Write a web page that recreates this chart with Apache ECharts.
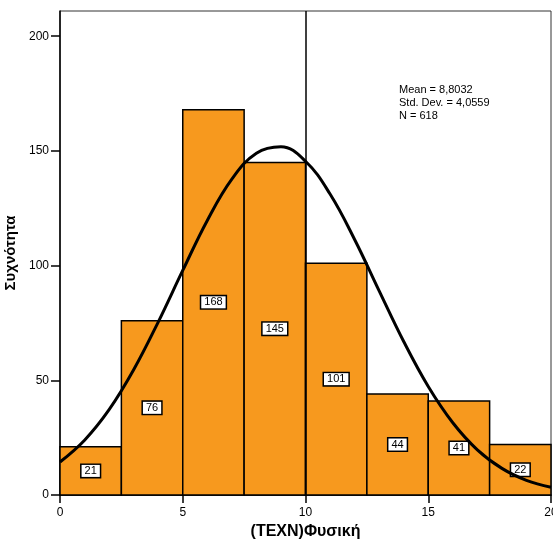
<!DOCTYPE html>
<html>
<head>
<meta charset="utf-8">
<script src="https://cdn.jsdelivr.net/npm/echarts@6/dist/echarts.min.js"></script>
<style>html,body{margin:0;padding:0;background:#fff}#c{width:553px;height:542px}</style>
</head>
<body>
<div id="c"></div>
<script>
var binStart = [0, 2.5, 5, 7.5, 10, 12.5, 15, 17.5];
var binEnd   = [2.5, 5, 7.5, 10, 12.5, 15, 17.5, 20];
var counts   = [21, 76, 168, 145, 101, 44, 41, 22];
var curveX = [0,1,2,3,4,5,6,7,8,9,10,11,12,13,14,15,16,17,18,19,20];
var curveY = [14.4,23.9,37.2,54.6,75.4,97.9,119.7,137.7,149.0,151.8,145.5,131.2,111.4,89.0,66.9,47.3,31.5,19.7,11.6,6.4,3.4];
var xTicks = [0, 5, 10, 15, 20];
var yTicks = [0, 50, 100, 150, 200];
var refLineX = 10;
var statsLines = ['Mean = 8,8032', 'Std. Dev. = 4,0559', 'N = 618'];
var xTitle = '(TEXN)Φυσική';
var yTitle = 'Συχνότητα';

var FONT = 'Liberation Sans, Arial, sans-serif';
var chart = echarts.init(document.getElementById('c'));
var barData = binStart.map(function (s, i) { return [s, binEnd[i], counts[i]]; });

chart.setOption({
  animation: false,
  grid: { left: 60, right: 2, top: 11, bottom: 47, show: true, borderColor: '#333', borderWidth: 1,
          backgroundColor: 'transparent', outerBoundsMode: 'none', containLabel: false },
  xAxis: {
    type: 'value', min: 0, max: 20, interval: 5,
    name: xTitle, nameLocation: 'middle', nameGap: 29,
    nameTextStyle: { fontFamily: FONT, fontWeight: 'bold', fontSize: 16, color: '#000', verticalAlign: 'top' },
    axisLine: { show: true, lineStyle: { color: '#000', width: 1.5 } },
    axisTick: { show: true, length: 8, lineStyle: { color: '#000', width: 1.5 }, customValues: xTicks },
    axisLabel: { fontFamily: FONT, fontSize: 12, color: '#000', margin: 12, customValues: xTicks },
    splitLine: { show: false }
  },
  yAxis: {
    type: 'value', min: 0, max: 211,
    name: yTitle, nameLocation: 'middle', nameGap: 36, nameRotate: 90,
    nameTextStyle: { fontFamily: FONT, fontWeight: 'bold', fontSize: 15, color: '#000' },
    axisLine: { show: true, lineStyle: { color: '#000', width: 1.5 } },
    axisTick: { show: true, length: 9, lineStyle: { color: '#000', width: 1.5 }, customValues: yTicks },
    axisLabel: { fontFamily: FONT, fontSize: 12, color: '#000', margin: 11, customValues: yTicks },
    splitLine: { show: false }
  },
  series: [
    {
      type: 'custom',
      data: barData,
      encode: { x: [0, 1], y: 2 },
      renderItem: function (params, api) {
        var p0 = api.coord([api.value(0), api.value(2)]);
        var p1 = api.coord([api.value(1), 0]);
        var cx = (p0[0] + p1[0]) / 2, cy = (p0[1] + p1[1]) / 2;
        return {
          type: 'group',
          children: [
            { type: 'rect', shape: { x: p0[0], y: p0[1], width: p1[0] - p0[0], height: p1[1] - p0[1] },
              style: { fill: '#F7991E', stroke: '#000', lineWidth: 1.5 } },
            { type: 'text', x: cx, y: cy, z2: 10,
              style: { text: String(api.value(2)), fill: '#000', font: '11px ' + FONT,
                align: 'center', verticalAlign: 'middle', backgroundColor: '#fff',
                borderColor: '#000', borderWidth: 1.5, padding: [1, 3, 0, 3] } }
          ]
        };
      },
      z: 2
    },
    {
      type: 'line',
      data: curveX.map(function (x, i) { return [x, curveY[i]]; }),
      smooth: 0.4, showSymbol: false, symbol: 'none',
      lineStyle: { color: '#000', width: 3 },
      z: 5,
      markLine: {
        silent: true, symbol: 'none', label: { show: false },
        lineStyle: { color: '#000', width: 1.5, type: 'solid' },
        data: [{ xAxis: refLineX }]
      }
    }
  ],
  graphic: statsLines.map(function (t, i) {
    return { type: 'text', left: 399, top: 84 + i * 13, style: { text: t, font: '11px ' + FONT, fill: '#000' } };
  })
});
</script>
</body>
</html>
